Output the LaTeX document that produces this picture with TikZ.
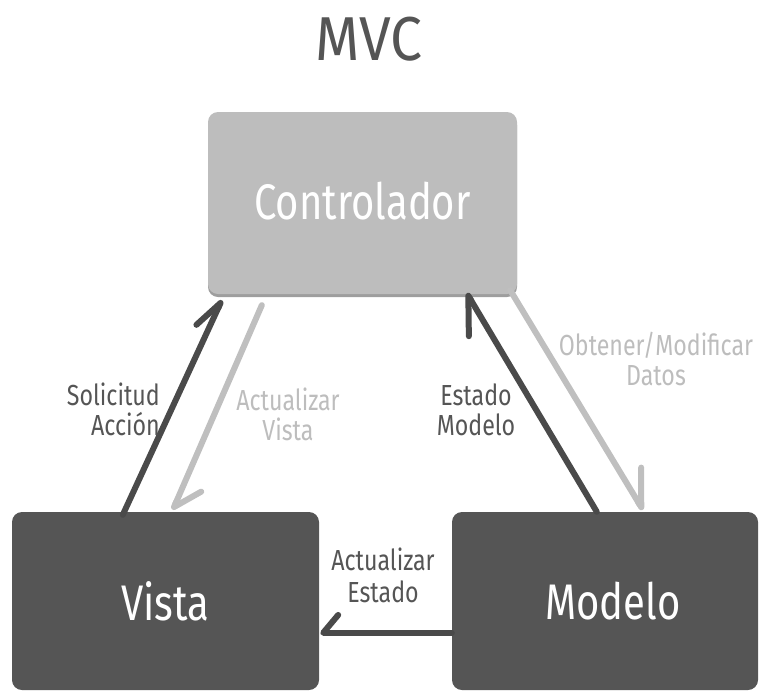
\documentclass[tikz,border=0pt]{standalone}
\usepackage{fontspec}
\setmainfont{Fira Sans}[FakeStretch=0.8]
\usetikzlibrary{arrows.meta,calc}
\definecolor{darkbox}{HTML}{555555}
\definecolor{darkline}{HTML}{4A4A4A}
\definecolor{lightbox}{HTML}{BDBDBD}
\definecolor{lightline}{HTML}{BFBFBF}
\definecolor{shadowc}{HTML}{9E9E9E}
\tikzset{
  box/.style={rounded corners=10pt, inner sep=0pt, text=white},
  boxtext/.style={font=\fontsize{50}{56}\selectfont},
  conn/.style={line width=6pt, line cap=round, line join=round},
  lbl/.style={font=\fontsize{29}{30}\selectfont, align=center, inner sep=0pt},
}
\begin{document}
\begin{tikzpicture}[x=1pt,y=-1pt]
\useasboundingbox (0,0) rectangle (762,691);
\node[font=\fontsize{62}{62}\selectfont, text=darkbox] (title) at (369,39) {\addfontfeatures{FakeStretch=0.92}MVC};
% shadow of controller
\fill[shadowc, rounded corners=10pt] (208,115) rectangle (517,297);
\node[box, fill=lightbox, minimum width=309, minimum height=182, boxtext] (ctrl) at (362.5,203) {\raisebox{5pt}{Controlador}};
\node[box, fill=darkbox, minimum width=307, minimum height=178, boxtext] (vista) at (165.5,601) {Vista};
\node[box, fill=darkbox, minimum width=306, minimum height=178, boxtext] (modelo) at (605,601) {\hspace*{16pt}Modelo};
% connector endpoints
\coordinate (sa1) at ($(vista.north west)+(111,3)$);
\coordinate (sa2) at ($(ctrl.south west)+(14,6)$);
\coordinate (av1) at ($(ctrl.south west)+(54,11)$);
\coordinate (av2) at ($(vista.north west)+(161,-2)$);
\coordinate (em1) at ($(modelo.north west)+(145,0)$);
\coordinate (em2) at ($(ctrl.south west)+(259,-1)$);
\coordinate (om1) at ($(ctrl.south east)+(-7,-4)$);
\coordinate (om2) at ($(modelo.north west)+(191,-2)$);
\coordinate (ae1) at ($(modelo.north west)+(0,121)$);
\coordinate (ae2) at ($(vista.north east)+(1,121)$);
% connectors
\draw[conn, darkline, -{Straight Barb[harpoon, round, length=30pt, angle'=46]}] (sa1) -- (sa2);
\draw[conn, lightline, -{Straight Barb[harpoon, round, length=25pt, angle'=74]}] (av1) -- (av2);
\draw[conn, darkline, -{Straight Barb[harpoon, round, length=35pt, angle'=60]}] (em1) -- (em2);
\draw[conn, lightline, -{Straight Barb[harpoon, round, length=34pt, angle'=62]}] (om1) -- (om2);
\draw[conn, darkline, -{Straight Barb[harpoon, swap, round, length=15pt, angle'=100]}] (ae1) -- (ae2);
% labels
\node[lbl, text=darkbox, align=right, anchor=east] (l1) at (160,409) {Solicitud\\Acción};
\node[lbl, text=lightbox] (l2) at (288,414) {Actualizar\\Vista};
\node[lbl, text=darkbox] (l3) at (476,410) {Estado\\Modelo};
\node[lbl, text=lightbox] (l4) at (656,359) {Obtener/Modificar\\Datos};
\node[lbl, text=darkbox, font=\fontsize{29}{32}\selectfont] (l5) at (383,575) {Actualizar\\Estado};
\end{tikzpicture}
\end{document}
